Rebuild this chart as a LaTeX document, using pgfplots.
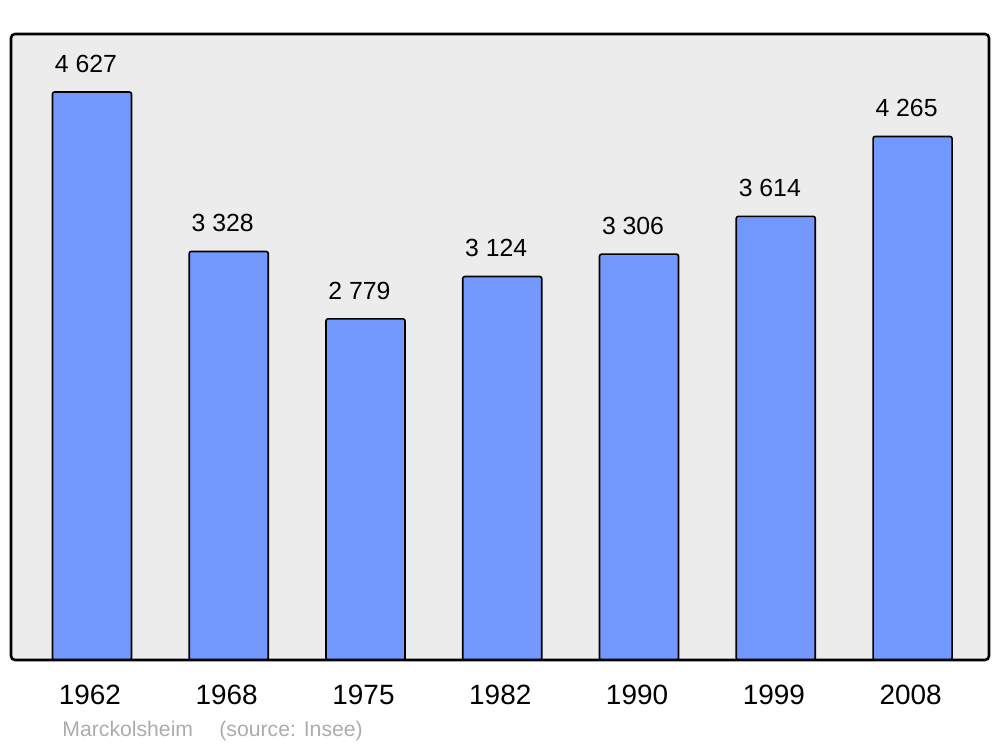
\documentclass[border=0pt]{standalone}
\usepackage{fontspec}
\setmainfont{Liberation Sans}
\usepackage{pgfplots}
\pgfplotsset{compat=1.18}
\definecolor{barblue}{RGB}{115,153,255}
\definecolor{bgray}{RGB}{236,236,236}
\definecolor{footgray}{RGB}{172,172,172}
\begin{document}
\begin{tikzpicture}
\path[use as bounding box] (-5.5pt,-43.5pt) rectangle (494.5pt,330pt);
\begin{axis}[
  at={(0,0)}, anchor=south west,
  width=489pt, height=313pt, scale only axis,
  xmin=-0.592, xmax=6.559, ymin=0, ymax=5100,
  axis background/.style={fill=bgray},
  axis line style={draw=none},
  xtick={0,1,2,3,4,5,6},
  xticklabels={1962,1968,1975,1982,1990,1999,2008},
  ytick=\empty,
  major tick length=0pt,
  xticklabel style={anchor=base, yshift=-22.5pt, xshift=-1pt, font=\fontsize{13.95}{16}\selectfont},
  ybar, bar width=39.5pt,
  point meta=explicit symbolic,
  nodes near coords,
  nodes near coords style={anchor=base, yshift=9.8pt, xshift=-3pt, font=\fontsize{12.4}{14}\selectfont, text=black},
  after end axis/.code={\draw[line width=1.3pt, rounded corners=2pt] (rel axis cs:0,0) rectangle (rel axis cs:1,1);},
]
\addplot[fill=barblue, draw=black, line width=0.8pt, rounded corners=1pt] coordinates {
  (0,4627) [4 627]
  (1,3328) [3 328]
  (2,2779) [2 779]
  (3,3124) [3 124]
  (4,3306) [3 306]
  (5,3614) [3 614]
  (6,4265) [4 265]
};
\end{axis}
\node[anchor=base west, text=footgray, font=\fontsize{10.6}{12}\selectfont, inner sep=0pt] at (25.5pt,-38.5pt) {Marckolsheim};
\node[anchor=base west, text=footgray, font=\fontsize{10.6}{12}\selectfont, inner sep=0pt] at (104pt,-38.5pt) {(source: Insee)};
\end{tikzpicture}
\end{document}
